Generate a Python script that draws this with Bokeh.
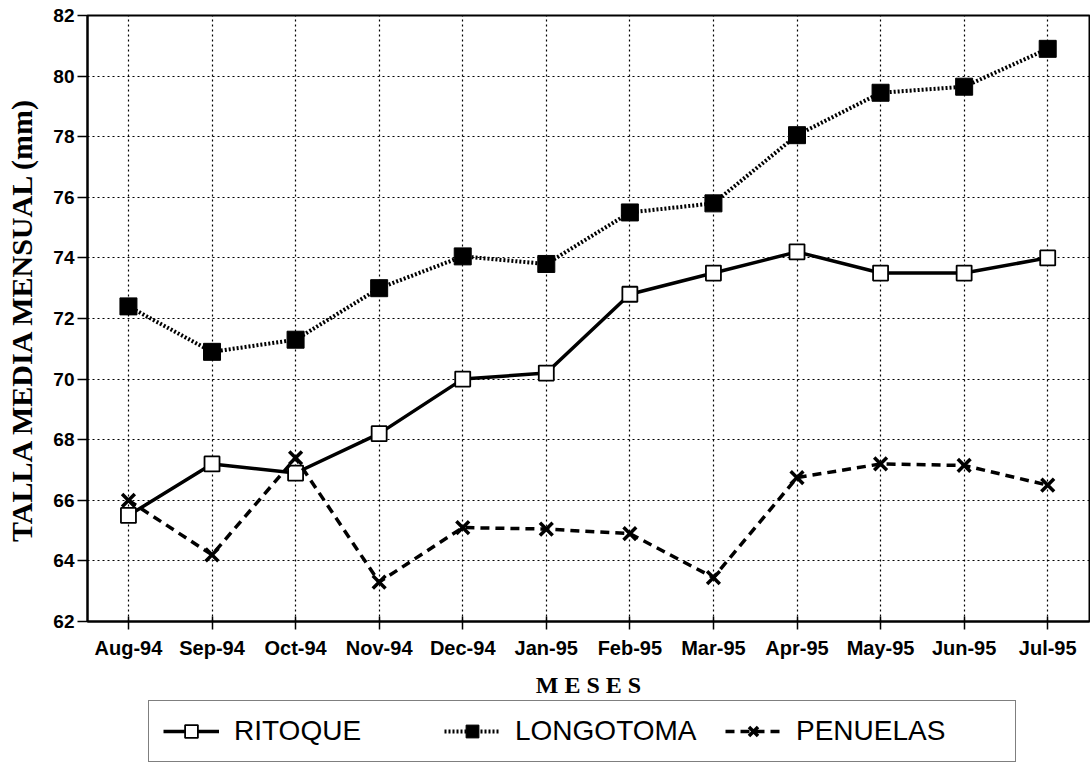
from bokeh.plotting import figure
from bokeh.layouts import column
from bokeh.models import FixedTicker, Legend, LegendItem
from bokeh.embed import file_html
from bokeh.resources import INLINE

meses = ["Aug-94", "Sep-94", "Oct-94", "Nov-94", "Dec-94", "Jan-95",
         "Feb-95", "Mar-95", "Apr-95", "May-95", "Jun-95", "Jul-95"]
ritoque = [65.5, 67.2, 66.9, 68.2, 70.0, 70.2, 72.8, 73.5, 74.2, 73.5, 73.5, 74.0]
longotoma = [72.4, 70.9, 71.3, 73.0, 74.05, 73.8, 75.5, 75.8, 78.05, 79.45, 79.65, 80.9]
penuelas = [66.0, 64.2, 67.4, 63.3, 65.1, 65.05, 64.9, 63.45, 66.75, 67.2, 67.15, 66.5]
series_names = ["RITOQUE", "LONGOTOMA", "PENUELAS"]
y_ticks = list(range(62, 83, 2))

xs = list(range(len(meses)))

# series styles
styles = [
    dict(line=dict(line_color="black", line_width=3.5),
         mark=dict(marker="square", size=15, fill_color="white", line_color="black", line_width=1.8)),
    dict(line=dict(line_color="black", line_width=4, line_dash="2 2"),
         mark=dict(marker="square", size=17, fill_color="black", line_color="black")),
    dict(line=dict(line_color="black", line_width=3.5, line_dash="9 6"),
         mark=dict(marker="x", size=18, line_color="black", line_width=3.5)),
]

p = figure(width=1090, height=700, output_backend="svg", toolbar_location=None,
           x_range=(-0.49, 11.5), y_range=(62, 82),
           min_border_left=87, min_border_right=1, min_border_top=15, min_border_bottom=76)
p.background_fill_color = "white"
p.border_fill_color = "white"
p.outline_line_color = "black"
p.outline_line_width = 2

p.xaxis.ticker = FixedTicker(ticks=xs)
p.xaxis.major_label_overrides = {i: m for i, m in enumerate(meses)}
p.yaxis.ticker = FixedTicker(ticks=y_ticks)
for ax in (p.xaxis[0], p.yaxis[0]):
    ax.axis_line_color = "black"
    ax.axis_line_width = 2
    ax.major_tick_line_color = "black"
    ax.major_tick_line_width = 1.5
    ax.minor_tick_line_color = None
    ax.major_label_text_color = "black"
    ax.major_label_text_font = "Liberation Sans"
    ax.major_label_text_font_style = "bold"
    ax.axis_label_text_color = "black"

p.xaxis.major_tick_in = 5
p.xaxis.major_tick_out = 8
p.xaxis.major_label_text_font_size = "20px"
p.xaxis.major_label_standoff = 7
p.xaxis.axis_label = "M E S E S"
p.xaxis.axis_label_text_font = "Liberation Serif"
p.xaxis.axis_label_text_font_style = "bold"
p.xaxis.axis_label_text_font_size = "24px"
p.xaxis.axis_label_standoff = 10

p.yaxis.major_tick_in = 0
p.yaxis.major_tick_out = 10
p.yaxis.major_label_text_font_size = "19px"
p.yaxis.major_label_standoff = 3
p.yaxis.axis_label = "TALLA MEDIA MENSUAL (mm)"
p.yaxis.axis_label_text_font = "Liberation Serif"
p.yaxis.axis_label_text_font_style = "bold"
p.yaxis.axis_label_text_font_size = "30px"
p.yaxis.axis_label_standoff = 12

for g in (p.xgrid[0], p.ygrid[0]):
    g.grid_line_color = "black"
    g.grid_line_width = 1.2
    g.grid_line_dash = "2 3"
    g.grid_line_alpha = 1.0

for vals, st in zip([ritoque, longotoma, penuelas], styles):
    p.line(xs, vals, **st["line"])
    p.scatter(xs, vals, **st["mark"])

# legend strip below the chart
lf = figure(width=1090, height=64, output_backend="svg", toolbar_location=None,
            x_range=(0, 1), y_range=(0, 1), x_axis_location=None, y_axis_location=None,
            min_border_left=0, min_border_right=0, min_border_top=0, min_border_bottom=0)
lf.outline_line_color = None
lf.xgrid.visible = False
lf.ygrid.visible = False
lf.background_fill_color = "white"
lf.border_fill_color = "white"

items = []
for name, st in zip(series_names, styles):
    lr = lf.line([-5, -4], [-5, -4], **st["line"])
    mr = lf.scatter([-5], [-5], **st["mark"])
    items.append(LegendItem(label=name, renderers=[lr, mr]))

legend = Legend(items=items, orientation="horizontal", location=(61, 2))
legend.margin = 0
legend.padding = 14
legend.spacing = 5
legend.glyph_width = 56
legend.glyph_height = 32
legend.label_standoff = 15
legend.label_width = 205
legend.label_text_font = "Liberation Sans"
legend.label_text_font_size = "28px"
legend.label_text_color = "black"
legend.border_line_color = "black"
legend.border_line_width = 1.5
legend.background_fill_color = "white"
legend.background_fill_alpha = 1.0
lf.add_layout(legend, "center")

layout = column(p, lf, spacing=0)
open("out.html", "w").write(file_html(layout, INLINE))
